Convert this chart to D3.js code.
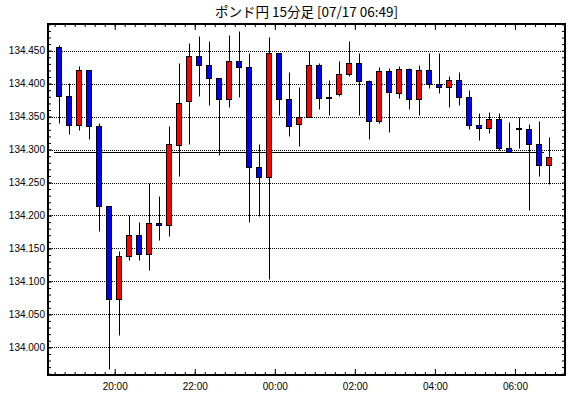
<!DOCTYPE html>
<html>
<head>
<meta charset="utf-8">
<script src="https://cdn.jsdelivr.net/npm/d3@7"></script>
<style>
  body { margin: 0; background: #fff; }
  text { font-family: "Liberation Sans", Arial, sans-serif; }
</style>
</head>
<body>
<div id="chart"></div>
<script>
// 15 minute candles, GBP/JPY
var times = [
  "07/16 18:30","07/16 18:45","07/16 19:00","07/16 19:15","07/16 19:30","07/16 19:45",
  "07/16 20:00","07/16 20:15","07/16 20:30","07/16 20:45","07/16 21:00","07/16 21:15",
  "07/16 21:30","07/16 21:45","07/16 22:00","07/16 22:15","07/16 22:30","07/16 22:45",
  "07/16 23:00","07/16 23:15","07/16 23:30","07/16 23:45","07/17 00:00","07/17 00:15",
  "07/17 00:30","07/17 00:45","07/17 01:00","07/17 01:15","07/17 01:30","07/17 01:45",
  "07/17 02:00","07/17 02:15","07/17 02:30","07/17 02:45","07/17 03:00","07/17 03:15",
  "07/17 03:30","07/17 03:45","07/17 04:00","07/17 04:15","07/17 04:30","07/17 04:45",
  "07/17 05:00","07/17 05:15","07/17 05:30","07/17 05:45","07/17 06:00","07/17 06:15",
  "07/17 06:30","07/17 06:45"
];
var openP = [
  134.455,134.381,134.338,134.421,134.335,134.214,134.074,134.139,134.171,134.142,
  134.188,134.185,134.307,134.373,134.442,134.428,134.408,134.377,134.434,134.425,
  134.273,134.259,134.447,134.377,134.339,134.350,134.428,134.379,134.384,134.415,
  134.431,134.404,134.343,134.419,134.386,134.422,134.376,134.421,134.399,134.395,
  134.405,134.380,134.337,134.332,134.346,134.302,134.332,134.331,134.309,134.276
];
var highP = [
  134.459,134.401,134.427,134.421,134.341,134.214,134.146,134.200,134.190,134.250,
  134.229,134.336,134.432,134.462,134.473,134.464,134.408,134.474,134.480,134.447,
  134.308,134.471,134.447,134.418,134.395,134.450,134.431,134.405,134.434,134.465,
  134.447,134.405,134.426,134.424,134.427,134.424,134.429,134.447,134.447,134.412,
  134.417,134.391,134.355,134.357,134.355,134.342,134.349,134.339,134.343,134.319
];
var lowP = [
  134.340,134.323,134.329,134.316,134.177,133.967,134.019,134.133,134.133,134.118,
  134.163,134.169,134.260,134.309,134.381,134.367,134.292,134.364,134.379,134.190,
  134.199,134.104,134.352,134.320,134.306,134.350,134.362,134.352,134.381,134.412,
  134.352,134.316,134.340,134.326,134.378,134.362,134.352,134.394,134.386,134.364,
  134.367,134.331,134.315,134.325,134.299,134.296,134.302,134.209,134.260,134.248
];
var closeP = [
  134.381,134.338,134.421,134.335,134.214,134.074,134.139,134.171,134.142,134.188,
  134.185,134.308,134.370,134.442,134.428,134.408,134.377,134.434,134.425,134.273,
  134.259,134.447,134.377,134.336,134.350,134.428,134.378,134.379,134.415,134.431,
  134.404,134.343,134.419,134.387,134.422,134.376,134.421,134.399,134.395,134.405,
  134.380,134.337,134.332,134.346,134.302,134.296,134.332,134.309,134.276,134.288
];
var currentPrice = 134.296;
var title = "ポンド円 15分足 [07/17 06:49]";

var parse = d3.timeParse("%Y/%m/%d %H:%M");
var data = times.map(function(t, i) {
    return { t: parse("2019/" + t), o: openP[i], h: highP[i], l: lowP[i], c: closeP[i] };
});

var W = 570, H = 398;
var L = 48, R = 565, T = 24, B = 375;

var svg = d3.select("#chart").append("svg")
    .attr("width", W).attr("height", H);

var x = d3.scaleTime()
    .domain([parse("2019/07/16 18:20"), parse("2019/07/17 07:15")])
    .range([L, R]);
var y = d3.scaleLinear()
    .domain([133.958, 134.4905])
    .range([B, T]);

var half = 7.5 * 60 * 1000; // candle drawn at middle of its 15 minutes
function cx(d) { return Math.floor(x(new Date(+d.t + half))) + 0.5; }
function py(v) { return Math.round(y(v)) + 0.5; }

// grid
svg.append("g").selectAll("line")
    .data(y.ticks(10))
    .enter().append("line")
    .attr("x1", L).attr("x2", R)
    .attr("y1", function(d) { return py(d); })
    .attr("y2", function(d) { return py(d); })
    .attr("stroke", "#000")
    .attr("stroke-dasharray", "1,1");

// current price line
svg.append("line")
    .attr("x1", Math.floor(x(data[0].t)))
    .attr("x2", Math.floor(x(data[data.length - 1].t)))
    .attr("y1", py(currentPrice)).attr("y2", py(currentPrice))
    .attr("stroke", "#000");

// candles
var candles = svg.append("g").selectAll("g")
    .data(data)
    .enter().append("g");

candles.append("line")
    .attr("x1", cx).attr("x2", cx)
    .attr("y1", function(d) { return py(d.h); })
    .attr("y2", function(d) { return py(d.l); })
    .attr("stroke", "#000");

candles.append("rect")
    .attr("x", function(d) { return cx(d) - 3; })
    .attr("width", 5)
    .attr("y", function(d) { return py(Math.max(d.o, d.c)); })
    .attr("height", function(d) { return Math.max(1, py(Math.min(d.o, d.c)) - py(Math.max(d.o, d.c))); })
    .attr("fill", function(d) { return d.c >= d.o ? "#ff0000" : "#0000ff"; })
    .attr("stroke", "#000");

// axes, ticks pointing inward
var hours = d3.timeHour.every(2).range(x.domain()[0], x.domain()[1]);
var quarters = d3.timeMinute.every(15).range(x.domain()[0], x.domain()[1]);

svg.append("g")
    .attr("transform", "translate(0," + B + ")")
    .call(d3.axisBottom(x).tickValues(quarters).tickSize(-3).tickFormat(""))
    .call(function(g) { g.select(".domain").remove(); });
svg.append("g")
    .attr("transform", "translate(0," + B + ")")
    .call(d3.axisBottom(x).tickValues(hours).tickSizeInner(-6).tickSizeOuter(0)
        .tickPadding(8).tickFormat(d3.timeFormat("%H:%M")))
    .call(function(g) {
        g.select(".domain").remove();
        g.selectAll("text").attr("font-size", 10).attr("font-family", "Liberation Sans, Arial, sans-serif");
    });
svg.append("g")
    .attr("transform", "translate(0," + T + ")")
    .call(d3.axisTop(x).tickValues(quarters).tickSize(-3).tickFormat(""))
    .call(function(g) { g.select(".domain").remove(); });
svg.append("g")
    .attr("transform", "translate(0," + T + ")")
    .call(d3.axisTop(x).tickValues(hours).tickSize(-6).tickFormat(""))
    .call(function(g) { g.select(".domain").remove(); });

svg.append("g")
    .attr("transform", "translate(" + L + ",0)")
    .call(d3.axisLeft(y).ticks(50).tickSize(-3).tickFormat(""))
    .call(function(g) { g.select(".domain").remove(); });
svg.append("g")
    .attr("transform", "translate(" + L + ",0)")
    .call(d3.axisLeft(y).ticks(10).tickSizeInner(-4).tickSizeOuter(0)
        .tickPadding(3).tickFormat(d3.format(".3f")))
    .call(function(g) {
        g.select(".domain").remove();
        g.selectAll("text").attr("font-size", 10).attr("font-family", "Liberation Sans, Arial, sans-serif");
    });
svg.append("g")
    .attr("transform", "translate(" + R + ",0)")
    .call(d3.axisRight(y).ticks(50).tickSize(-3).tickFormat(""))
    .call(function(g) { g.select(".domain").remove(); });

// frame
svg.append("rect")
    .attr("x", L).attr("y", T)
    .attr("width", R - L).attr("height", B - T)
    .attr("fill", "none")
    .attr("stroke", "#000")
    .attr("stroke-width", 2);

// title
svg.append("text")
    .attr("x", (L + R) / 2)
    .attr("y", 17)
    .attr("text-anchor", "middle")
    .style("font-family", "'Noto Sans CJK JP', sans-serif")
    .style("font-size", "13.5px")
    .text(title);
</script>
</body>
</html>
